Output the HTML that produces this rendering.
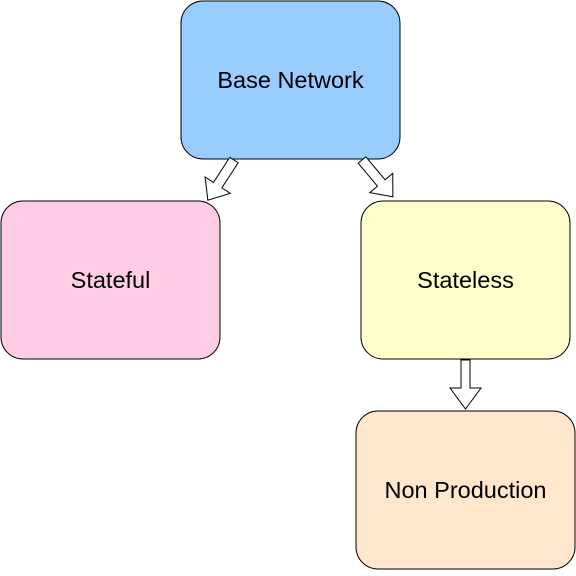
<!DOCTYPE html>
<html><head><style>
body{margin:0;background:#fff;width:576px;height:571px;overflow:hidden}
</style></head><body>
<svg width="576" height="571" xmlns="http://www.w3.org/2000/svg" font-family="Liberation Sans, sans-serif" font-size="23.5">
<defs>
<polygon id="arr" points="-5,0 5,0 5,30 15,30 0,48 -15,30 -5,30" fill="#fff" stroke="#000" stroke-width="1"/>
</defs>
<rect x="181" y="1" width="219" height="158" rx="22" fill="#99ccff" stroke="#000"/>
<text x="290.5" y="88" text-anchor="middle">Base Network</text>
<rect x="1" y="201" width="219" height="158" rx="22" fill="#ffcce6" stroke="#000"/>
<text x="110.5" y="288" text-anchor="middle">Stateful</text>
<rect x="361" y="201" width="209" height="158" rx="22" fill="#ffffcc" stroke="#000"/>
<text x="465.5" y="288" text-anchor="middle">Stateless</text>
<rect x="356" y="411" width="219" height="158" rx="22" fill="#ffe6cc" stroke="#000"/>
<text x="465.5" y="498" text-anchor="middle">Non Production</text>
<polygon points="461,360 470,360 470,388 481,388 465.5,409 450,388 461,388" fill="#fff" stroke="#000"/>
<use href="#arr" transform="translate(234,160) rotate(33)"/>
<use href="#arr" transform="translate(362,160) rotate(-40)"/>
</svg>
</body></html>
